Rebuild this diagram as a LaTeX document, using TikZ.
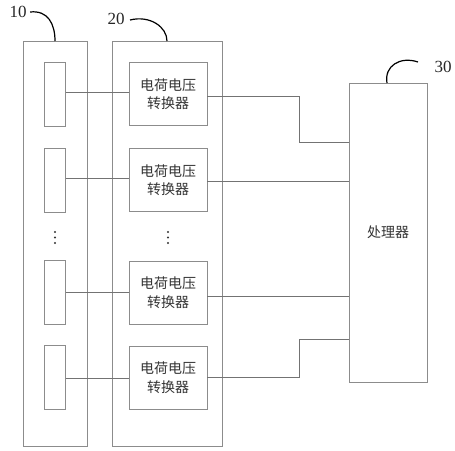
\documentclass[tikz,border=0pt]{standalone}
\usepackage{fontspec}
\setmainfont{Liberation Serif}
\newfontfamily\cjk{Noto Sans CJK SC}
\begin{document}
\begin{tikzpicture}[x=1pt,y=-1pt,
  box/.style={draw=black!45,line width=0.9pt},
  wire/.style={draw=black!55,line width=0.9pt},
  lead/.style={draw=black,line width=1.2pt},
  conv/.style={box,minimum width=78pt,minimum height=63pt,inner sep=0pt,align=center,font=\cjk\fontsize{14}{18.5}\selectfont,text=black!80},
  cell/.style={box,minimum width=21pt,minimum height=64pt,inner sep=0pt},
  dotmark/.style={circle,fill=black!80,inner sep=0pt,minimum size=2.4pt},
  num/.style={font=\fontsize{17}{17}\selectfont,text=black!85}]
\useasboundingbox (0,0) rectangle (455,450);
% outer boxes
\node[box,minimum width=64pt,minimum height=405pt,inner sep=0pt] (b10) at (55,243.5) {};
\node[box,minimum width=110pt,minimum height=405pt,inner sep=0pt] (b20) at (167,243.5) {};
\node[box,minimum width=78pt,minimum height=299pt,inner sep=0pt,font=\cjk\fontsize{14}{18}\selectfont,text=black!80] (b30) at (388,232.5) {处理器};
% cells
\node[cell] (c1) at (55,94) {};
\node[cell] (c2) at (55,180) {};
\node[cell] (c3) at (55,292.5) {};
\node[cell] (c4) at (55,377.5) {};
% converters
\node[conv] (v1) at (168,94) {电荷电压\\转换器};
\node[conv] (v2) at (168,180) {电荷电压\\转换器};
\node[conv] (v3) at (168,292.5) {电荷电压\\转换器};
\node[conv] (v4) at (168,377.5) {电荷电压\\转换器};
% dots
\foreach \y [count=\i] in {232,237.5,243} {
  \node[dotmark] (dl\i) at (55,\y) {};
  \node[dotmark] (dr\i) at (168,\y) {};
}
% cell to converter
\draw[wire] (c1.east |- 0,92) -- (v1.west |- 0,92);
\draw[wire] (c2.east |- 0,178) -- (v2.west |- 0,178);
\draw[wire] (c3.east |- 0,292) -- (v3.west |- 0,292);
\draw[wire] (c4.east |- 0,378) -- (v4.west |- 0,378);
% converter to processor
\coordinate (k1) at (299,96);
\coordinate (k2) at (299,142);
\coordinate (k3) at (299,377);
\coordinate (k4) at (299,339);
\draw[wire] (v1.east |- k1) -- (k1) -- (k2) -- (b30.west |- k2);
\draw[wire] (v2.east |- 0,181) -- (b30.west |- 0,181);
\draw[wire] (v3.east |- 0,296) -- (b30.west |- 0,296);
\draw[wire] (v4.east |- k3) -- (k3) -- (k4) -- (b30.west |- k4);
% labels
\node[num] (n10) at (18,12) {10};
\node[num] (n20) at (116,19) {20};
\node[num] (n30) at (443,67) {30};
\draw[lead] (n10.east) .. controls (48,10) and (55,24) .. (55,41);
\draw[lead] (130,20) .. controls (150,15) and (167,27) .. (167,41);
\draw[lead] (418,62) .. controls (400,56) and (384,66) .. (387,83);
\end{tikzpicture}
\end{document}
